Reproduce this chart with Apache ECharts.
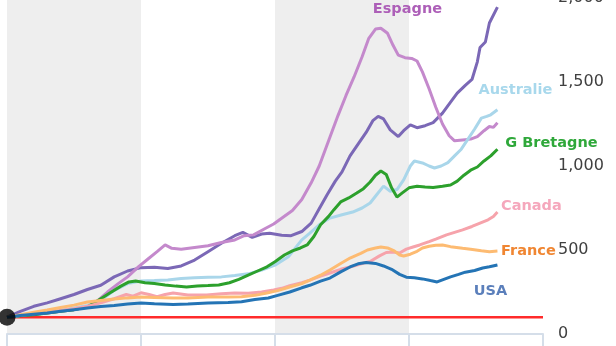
<!DOCTYPE html>
<html>
<head>
<meta charset="utf-8">
<script src="https://cdn.jsdelivr.net/npm/echarts@6/dist/echarts.min.js"></script>
<style>
  html, body { margin: 0; padding: 0; background: #ffffff; }
  #chart { width: 616px; height: 346px; }
</style>
</head>
<body>
<div id="chart"></div>
<script>
// Indice des prix du logement, base 100 en 1980 : [année, indice]
const suede = [[1980,100],[1981,135],[1982,165],[1983,185],[1984,210],[1985,235],[1986,265],[1987,290],[1988,340],[1989,375],[1990,395],[1991,398],[1992,390],[1993,405],[1994,440],[1995,490],[1996,540],[1997,585],[1997.6,605],[1998.3,575],[1999,595],[1999.6,600],[2000.5,588],[2001.2,585],[2002,610],[2002.7,660],[2003.3,745],[2003.9,830],[2004.5,910],[2005,965],[2005.6,1060],[2006.2,1130],[2006.8,1200],[2007.3,1270],[2007.7,1295],[2008.1,1280],[2008.6,1215],[2009.2,1175],[2009.6,1210],[2010.1,1245],[2010.6,1228],[2011.2,1240],[2011.8,1258],[2012.5,1315],[2013.1,1380],[2013.6,1434],[2014.2,1480],[2014.7,1515],[2015.1,1620],[2015.3,1705],[2015.7,1738],[2016,1851],[2016.6,1946]];
const espagne = [[1980,100],[1981,110],[1982,118],[1983,125],[1984,135],[1985,145],[1986,160],[1986.8,200],[1987.5,250],[1988.3,300],[1989,340],[1989.8,400],[1990.5,445],[1991.2,490],[1991.8,530],[1992.3,510],[1993,505],[1994,515],[1995,525],[1996,545],[1997,560],[1997.7,585],[1998.4,590],[1999.2,625],[1999.9,655],[2000.6,695],[2001.3,735],[2002,800],[2002.7,900],[2003.3,1000],[2004,1150],[2004.7,1300],[2005.3,1420],[2005.9,1530],[2006.5,1650],[2007,1760],[2007.5,1815],[2007.9,1820],[2008.4,1790],[2008.8,1720],[2009.2,1660],[2009.7,1645],[2010.2,1640],[2010.6,1625],[2011,1560],[2011.5,1460],[2012,1350],[2012.5,1250],[2013,1180],[2013.4,1150],[2014,1155],[2014.6,1160],[2015.1,1175],[2015.6,1210],[2016,1235],[2016.3,1230],[2016.6,1258]];
const australie = [[1980,100],[1981,110],[1982,122],[1983,130],[1984,140],[1985,155],[1986,170],[1987,200],[1988,260],[1989,300],[1990,315],[1991,318],[1992,322],[1993,330],[1994,335],[1995,338],[1996,340],[1997,348],[1998,358],[1999,380],[2000,410],[2001,460],[2002,560],[2002.6,600],[2003.3,650],[2004.1,690],[2005,710],[2005.8,726],[2006.5,750],[2007.1,780],[2007.6,830],[2008.1,880],[2008.6,850],[2009.1,860],[2009.6,917],[2010.1,1000],[2010.4,1030],[2011,1018],[2011.5,1000],[2011.9,988],[2012.4,1000],[2012.9,1020],[2013.4,1060],[2013.9,1100],[2014.4,1160],[2014.9,1220],[2015.4,1285],[2015.8,1295],[2016.1,1305],[2016.6,1335]];
const gBretagne = [[1980,100],[1981,108],[1982,115],[1983,125],[1984,135],[1985,145],[1986,160],[1987,210],[1987.7,245],[1988.5,285],[1989.1,310],[1989.6,315],[1990.3,305],[1991,300],[1991.8,292],[1992.6,285],[1993.4,280],[1994.2,285],[1995,288],[1995.8,292],[1996.6,305],[1997.3,325],[1998,350],[1998.7,375],[1999.4,400],[2000,430],[2000.7,470],[2001.3,495],[2001.9,512],[2002.4,530],[2002.9,580],[2003.4,650],[2004,700],[2004.4,740],[2004.9,786],[2005.5,810],[2006.1,839],[2006.6,865],[2007.1,905],[2007.5,945],[2007.9,970],[2008.3,950],[2008.7,870],[2009.1,815],[2009.5,840],[2010,870],[2010.6,880],[2011.2,875],[2011.8,872],[2012.5,880],[2013.1,887],[2013.6,910],[2014.1,945],[2014.6,975],[2015.1,994],[2015.6,1030],[2016.1,1060],[2016.6,1100]];
const canada = [[1980,100],[1981,112],[1982,120],[1983,130],[1984,140],[1985,150],[1986,165],[1987,185],[1988,210],[1988.9,235],[1989.4,225],[1990,245],[1990.6,235],[1991.2,222],[1991.8,235],[1992.4,244],[1993.5,232],[1994.9,232],[1996,240],[1997,244],[1998,242],[1999,250],[1999.9,262],[2000.5,272],[2001.1,288],[2002,305],[2002.6,321],[2003.4,345],[2004.1,363],[2004.9,385],[2005.6,399],[2006.5,420],[2007.1,432],[2007.8,465],[2008.3,485],[2008.8,488],[2009.3,482],[2009.8,505],[2010.3,518],[2010.8,530],[2011.5,550],[2012,565],[2012.8,590],[2013.4,605],[2014,620],[2014.7,640],[2015.3,660],[2015.9,680],[2016.3,700],[2016.6,726]];
const france = [[1980,100],[1981,115],[1982,130],[1983,143],[1984,158],[1985,172],[1986,190],[1987,200],[1988,208],[1989,215],[1990,220],[1991,218],[1992.4,214],[1993.5,215],[1995,220],[1996.5,220],[1997.5,222],[1998.5,230],[1999.4,244],[2000.2,258],[2001.1,280],[2002,300],[2002.6,321],[2003.4,350],[2004.1,381],[2004.9,420],[2005.6,452],[2006.4,480],[2006.9,500],[2007.5,512],[2007.9,518],[2008.4,512],[2008.9,495],[2009.3,470],[2009.6,464],[2010.1,475],[2010.6,492],[2011,512],[2011.5,522],[2012,528],[2012.5,530],[2013.1,520],[2014,510],[2014.6,504],[2015.4,495],[2016,490],[2016.6,494]];
const usa = [[1980,100],[1981,110],[1982,118],[1983,125],[1984,135],[1985,145],[1986,155],[1987,163],[1988,170],[1989,178],[1990,185],[1991,180],[1992.4,175],[1993.5,178],[1995,185],[1996.5,188],[1997.5,192],[1998.5,205],[1999.5,214],[2000.2,230],[2001.1,250],[2002,275],[2002.6,290],[2003.4,315],[2004.1,333],[2004.9,370],[2005.6,399],[2006.2,418],[2006.8,425],[2007.5,420],[2008.1,405],[2008.7,385],[2009.3,355],[2009.8,338],[2010.4,335],[2011,328],[2011.6,318],[2012.1,310],[2012.6,325],[2013.1,340],[2013.7,355],[2014.2,368],[2014.9,378],[2015.5,393],[2016,400],[2016.6,411]];

// Ligne de référence (base 100) et point de départ
const base = [[1980,100],[2020,100]];
const origine = [[1980,100]];

// Axes
const xMin = 1980, xMax = 2020, xStep = 10;
const yTicks = [0, 500, 1000, 1500, 2000];

const chart = echarts.init(document.getElementById('chart'), null, { renderer: 'canvas' });

const labelFont = { fontFamily: 'DejaVu Sans', fontWeight: 'bold', fontSize: 14.5 };

function lineSeries(name, data, color, labelColor, offset) {
  const s = {
    name: name,
    type: 'line',
    data: data,
    symbol: 'none',
    lineStyle: { color: color, width: 3 },
    itemStyle: { color: color },
    z: 3
  };
  if (labelColor) {
    s.markPoint = {
      symbol: 'circle',
      symbolSize: 1,
      itemStyle: { color: 'rgba(0,0,0,0)' },
      label: Object.assign({ show: true, position: 'inside', color: labelColor, offset: offset, formatter: name }, labelFont),
      data: [{ coord: data[data.length - 1] }]
    };
  }
  return s;
}

const option = {
  animation: false,
  backgroundColor: '#ffffff',
  grid: { left: 7, right: 73, top: -2, bottom: 12, containLabel: false, outerBoundsMode: 'none' },
  xAxis: {
    type: 'value',
    min: xMin, max: xMax, interval: xStep,
    axisLabel: { show: false },
    axisLine: { show: true, lineStyle: { color: '#d5dee9', width: 2 } },
    axisTick: { show: true, inside: false, length: 14, lineStyle: { color: '#d5dee9', width: 2 } },
    splitLine: { show: false },
    splitArea: { show: true, areaStyle: { color: ['#eeeeee', '#ffffff'] } }
  },
  yAxis: {
    type: 'value',
    position: 'right',
    min: yTicks[0], max: yTicks[yTicks.length - 1], interval: yTicks[1] - yTicks[0],
    axisLine: { show: false },
    axisTick: { show: false },
    axisLabel: {
      margin: 15,
      fontFamily: 'DejaVu Sans',
      fontSize: 16,
      color: '#404040',
      formatter: v => v.toLocaleString('en-US')
    },
    splitLine: { lineStyle: { color: '#d4d4d4', width: 1.5 } }
  },
  series: [
    {
      name: 'Base 100',
      type: 'line',
      data: base,
      symbol: 'none',
      lineStyle: { color: '#ff2b2b', width: 2.5 },
      z: 2
    },
    lineSeries('Suède', suede, '#7b68b6', null, null),
    lineSeries('Espagne', espagne, '#c489cc', '#ad5fb8', [-90, -113]),
    lineSeries('Australie', australie, '#a9d6ea', '#a8d8ec', [18, -19]),
    lineSeries('G Bretagne', gBretagne, '#2ca02c', '#2fa83a', [54, -6]),
    lineSeries('Canada', canada, '#f6a3ab', '#f5a7bc', [34, -6]),
    lineSeries('France', france, '#fdbb72', '#f08632', [31, 0]),
    lineSeries('USA', usa, '#2474b5', '#5b7fbb', [-7, 26]),
    {
      name: 'Départ',
      type: 'scatter',
      data: origine,
      symbol: 'circle',
      symbolSize: 17,
      itemStyle: { color: '#000000' },
      clip: false,
      z: 10
    }
  ]
};

chart.setOption(option);
</script>
</body>
</html>
